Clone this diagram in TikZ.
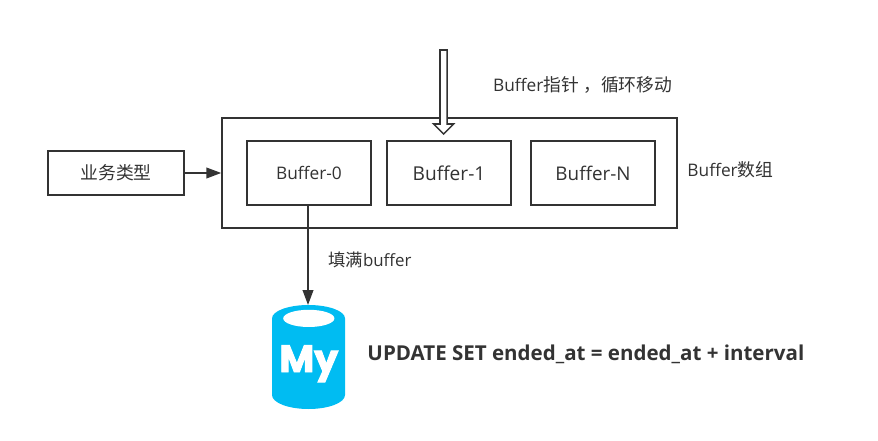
\documentclass[tikz,border=0pt]{standalone}
\usepackage{fontspec}
\setmainfont{Open Sans}
\newfontfamily\cjk[Scale=1.03]{Noto Sans CJK SC}
\newfontfamily\myfont[FakeBold=2.5]{Poppins}[BoldFont=* Bold]
\usetikzlibrary{arrows.meta}
\definecolor{darkline}{RGB}{51,51,51}
\definecolor{dbblue}{RGB}{0,188,242}
\tikzset{
  box/.style={draw=darkline,line width=1.2pt,fill=white,inner sep=0pt,text=darkline,font=\fontsize{12.3}{15}\selectfont},
  lbl/.style={text=darkline,inner sep=0pt,font=\fontsize{12.3}{15}\selectfont},
  conn/.style={draw=darkline,line width=1.2pt,-{Triangle[length=10.5pt,width=7.5pt]}}
}
\begin{document}
\begin{tikzpicture}
  \useasboundingbox (0,0) rectangle (21.95,11);
  % boxes:
  \node[box,minimum width=11.375cm,minimum height=2.75cm] (array) at (11.24,6.675) {};
  \node[box,minimum width=3.1cm,minimum height=1.6cm] (buf0) at (7.725,6.675) {Buffer-0};
  \node[box,minimum width=3.1cm,minimum height=1.6cm,font=\fontsize{13.6}{15}\selectfont] (buf1) at (11.225,6.675) {Buffer-1};
  \node[box,minimum width=3.1cm,minimum height=1.6cm,font=\fontsize{13.4}{15}\selectfont] (bufN) at (14.825,6.675) {Buffer-N};
  \node[box,minimum width=3.4cm,minimum height=1.1cm] (type) at (2.9,6.675) {{\cjk 业务类型}};
  % database:
  \fill[dbblue] (6.8,3.04) arc[start angle=180,end angle=0,x radius=0.9125,y radius=0.335]
    -- (8.625,1.125) arc[start angle=0,end angle=-180,x radius=0.9125,y radius=0.35] -- cycle;
  \fill[white] (7.72,3.04) ellipse[x radius=0.64,y radius=0.215];
  \node[anchor=base,text=white,inner sep=0pt,font=\myfont\bfseries\fontsize{27}{28}\selectfont] (my) at (7.72,1.7) {My};
  \coordinate (dbtop) at (7.7,3.375);
  % pointer:
  \coordinate (ptrtip) at (11.09,7.65);
  \draw[draw=darkline,line width=1.1pt,fill=white] (ptrtip) -- ++(-0.25,0.25) -- ++(0.16,0) -- ++(0,1.85)
    -- ++(0.18,0) -- ++(0,-1.85) -- ++(0.16,0) -- cycle;
  % arrows:
  \draw[conn] (type) -- (array);
  \coordinate (drop) at (buf0.south -| dbtop);
  \draw[conn] (drop) -- (dbtop);
  % labels:
  \node[lbl,anchor=west] (ptrtext) at (12.32,8.88) {Buffer{\cjk 指针\kern3pt，\kern0pt 循环移动}};
  \node[lbl,anchor=west] (arrtext) at (17.18,6.75) {Buffer{\cjk 数组}};
  \node[lbl,anchor=west,font=\fontsize{12}{15}\selectfont] (filltext) at (8.2,4.5) {{\cjk 填满}buffer};
  \node[anchor=west,text=darkline,inner sep=0pt,font=\bfseries\fontsize{14.6}{17}\selectfont] (sql) at (9.18,2.15) {UPDATE SET ended\_at = ended\_at + interval};
\end{tikzpicture}
\end{document}
